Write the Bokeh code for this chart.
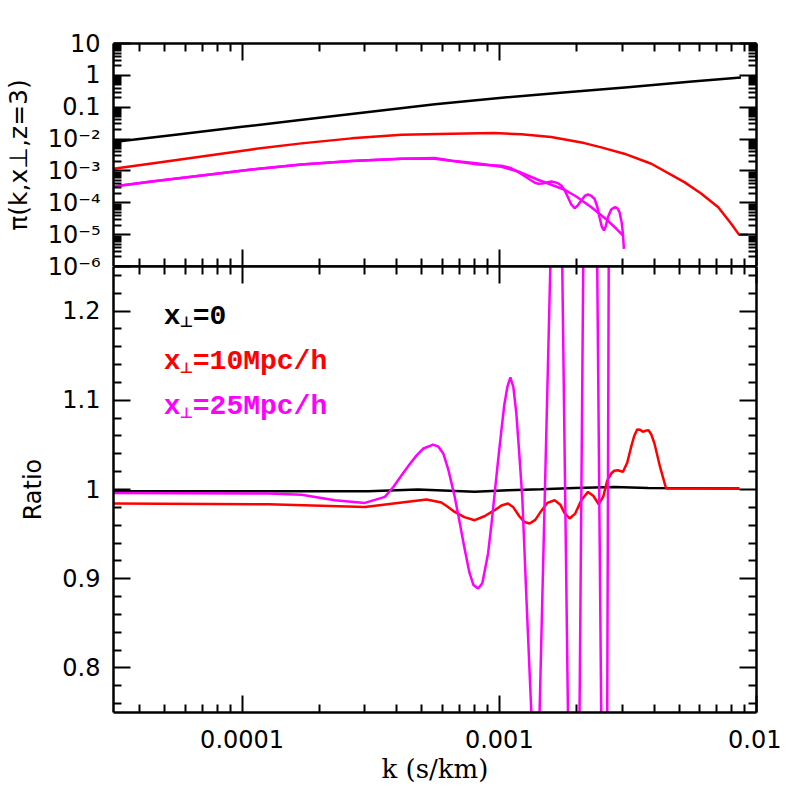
from bokeh.plotting import figure
from bokeh.models import (Range1d, FixedTicker, LogAxis, LinearAxis, Label,
                          CustomJSTickFormatter)
from bokeh.layouts import column
from bokeh.embed import file_html
from bokeh.resources import INLINE

# ---------------- data ----------------
# top panel: pi(k, x_perp, z=3)
k_top_black = [3.162e-5, 5.623e-5, 1.0e-4, 1.778e-4, 3.162e-4, 5.623e-4,
               1.0e-3, 1.778e-3, 3.162e-3, 5.623e-3, 8.7e-3]
pi_top_black = [8.05e-3, 0.01396, 0.0242, 0.0417, 0.0724, 0.123,
                0.195, 0.288, 0.427, 0.638, 0.853]

k_top_red = [3.162e-5, 4.45e-5, 6.97e-5, 1.089e-4, 1.70e-4, 2.663e-4, 4.17e-4,
             6.52e-4, 9.57e-4, 1.218e-3, 1.59e-3, 2.14e-3, 2.49e-3, 3.06e-3,
             3.90e-3, 5.24e-3, 6.09e-3, 7.10e-3, 7.96e-3, 8.55e-3, 9.27e-3]
pi_top_red = [1.17e-3, 1.72e-3, 2.86e-3, 4.74e-3, 7.33e-3, 0.01052, 0.01374,
              0.01479, 0.01545, 0.01406, 0.01156, 7.48e-3, 5.48e-3, 3.48e-3,
              1.68e-3, 4.45e-4, 1.96e-4, 7.28e-5, 2.23e-5, 1.0e-5, 1.0e-5]

k_top_mag_smooth = [3.162e-5, 4.45e-5, 6.97e-5, 1.089e-4, 1.70e-4, 2.663e-4, 4.17e-4,
                    5.60e-4, 6.52e-4, 8.143e-4, 1.018e-3, 1.183e-3, 1.413e-3,
                    1.795e-3, 1.991e-3, 2.28e-3, 2.64e-3, 2.847e-3, 3.03e-3]
pi_top_mag_smooth = [3.26e-4, 4.68e-4, 7.21e-4, 1.114e-3, 1.60e-3, 2.06e-3, 2.42e-3,
                     2.42e-3, 2.09e-3, 1.746e-3, 1.355e-3, 9.64e-4, 5.28e-4,
                     2.56e-4, 1.578e-4, 7.28e-5, 2.77e-5, 1.556e-5, 9.4e-6]

k_top_mag_osc = [3.162e-5, 4.45e-5, 6.97e-5, 1.089e-4, 1.70e-4, 2.663e-4, 4.17e-4,
                 5.60e-4, 6.52e-4, 8.27e-4, 1.018e-3, 1.104e-3, 1.183e-3, 1.252e-3,
                 1.332e-3, 1.380e-3, 1.422e-3, 1.469e-3, 1.546e-3, 1.592e-3, 1.641e-3,
                 1.695e-3, 1.742e-3, 1.797e-3, 1.849e-3, 1.905e-3, 1.963e-3, 2.018e-3,
                 2.084e-3, 2.149e-3, 2.213e-3, 2.28e-3, 2.345e-3, 2.403e-3, 2.453e-3,
                 2.502e-3, 2.553e-3, 2.593e-3, 2.644e-3, 2.723e-3, 2.807e-3, 2.874e-3,
                 2.934e-3, 2.991e-3, 3.025e-3, 3.051e-3]
pi_top_mag_osc = [3.26e-4, 4.68e-4, 7.21e-4, 1.114e-3, 1.60e-3, 2.06e-3, 2.42e-3,
                  2.53e-3, 2.09e-3, 1.59e-3, 1.45e-3, 1.24e-3, 9.3e-4, 6.97e-4,
                  5.02e-4, 4.19e-4, 3.95e-4, 4.05e-4, 4.45e-4, 4.68e-4, 4.45e-4,
                  4.05e-4, 3.50e-4, 2.44e-4, 1.50e-4, 8.85e-5, 6.76e-5, 8.22e-5,
                  1.18e-4, 1.637e-4, 1.82e-4, 1.637e-4, 1.34e-4, 7.66e-5, 3.52e-5,
                  1.80e-5, 1.35e-5, 1.80e-5, 3.52e-5, 6.15e-5, 7.28e-5, 6.86e-5,
                  5.06e-5, 2.40e-5, 1.06e-5, 3.57e-6]

# bottom panel: ratio
k_ratio_black = [3.162e-5, 3.09e-4, 4.83e-4, 8.02e-4, 1.081e-3, 1.456e-3,
                 1.963e-3, 2.807e-3, 3.79e-3, 8.579e-3]
ratio_black = [0.998, 0.998, 1.0, 0.9975, 0.9992, 1.0003, 1.0018, 1.0029, 1.0018, 1.0011]

k_ratio_red = [3.162e-5, 1.265e-4, 3.00e-4, 5.21e-4, 5.957e-4, 6.339e-4, 6.707e-4,
               7.314e-4, 8.02e-4, 8.75e-4, 9.59e-4, 1.019e-3, 1.081e-3, 1.134e-3,
               1.196e-3, 1.252e-3, 1.312e-3, 1.380e-3, 1.456e-3, 1.537e-3, 1.641e-3,
               1.727e-3, 1.789e-3, 1.876e-3, 1.973e-3, 2.083e-3, 2.212e-3, 2.319e-3,
               2.436e-3, 2.536e-3, 2.628e-3, 2.723e-3, 2.797e-3, 2.891e-3, 3.023e-3,
               3.142e-3, 3.256e-3, 3.345e-3, 3.436e-3, 3.530e-3, 3.616e-3, 3.707e-3,
               3.802e-3, 3.895e-3, 4.011e-3, 4.220e-3, 4.452e-3, 8.579e-3]
ratio_red = [0.9843, 0.9835, 0.9805, 0.9888, 0.9854, 0.980, 0.9749,
             0.969, 0.9656, 0.970, 0.9768, 0.982, 0.9843, 0.980,
             0.970, 0.9635, 0.9619, 0.966, 0.976, 0.985, 0.988,
             0.983, 0.974, 0.9675, 0.973, 0.988, 0.9973, 0.993,
             0.9835, 0.992, 1.010, 1.0179, 1.021, 1.0216, 1.0197,
             1.030, 1.0478, 1.060, 1.0673, 1.067, 1.0646, 1.066,
             1.0665, 1.062, 1.0516, 1.025, 1.0011, 1.0011]

k_ratio_mag = [3.162e-5, 1.265e-4, 1.703e-4, 2.294e-4, 3.00e-4, 3.59e-4, 3.878e-4,
               4.17e-4, 4.473e-4, 4.762e-4, 5.070e-4, 5.53e-4, 5.799e-4, 6.064e-4,
               6.339e-4, 6.707e-4, 6.994e-4, 7.314e-4, 7.650e-4, 7.931e-4, 8.27e-4,
               8.59e-4, 9.04e-4, 9.314e-4, 9.59e-4, 9.872e-4, 1.019e-3, 1.046e-3,
               1.075e-3, 1.104e-3, 1.134e-3, 1.165e-3, 1.196e-3, 1.229e-3, 1.274e-3,
               1.332e-3, 1.380e-3, 1.434e-3, 1.579e-3, 1.665e-3, 1.757e-3, 1.849e-3,
               1.939e-3, 2.051e-3, 2.120e-3, 2.258e-3, 2.403e-3, 2.490e-3, 2.559e-3,
               2.628e-3, 2.663e-3, 2.807e-3, 2.934e-3, 3.023e-3]
ratio_mag = [0.9962, 0.9955, 0.994, 0.988, 0.985, 0.9917, 1.003,
             1.016, 1.028, 1.038, 1.046, 1.0504, 1.048, 1.040,
             1.022, 0.992, 0.965, 0.935, 0.907, 0.893, 0.889,
             0.895, 0.928, 0.96, 0.995, 1.03, 1.0665, 1.095,
             1.115, 1.1256, 1.115, 1.085, 1.04, 0.99, 0.88,
             0.75, 0.62, 0.75, 1.25, 1.40, 1.25, 0.75,
             0.40, 0.75, 1.25, 2.2, 1.25, 0.75, 0.35,
             0.75, 1.25, 3.5, 3.4, 3.0]

# ticks and labels
x_major = [1e-4, 1e-3, 1e-2]
x_labels = ["0.0001", "0.001", "0.01"]
x_minor = [m * 10.0 ** e for e in (-5, -4, -3) for m in range(2, 10)]
top_y_major = [1e-6, 1e-5, 1e-4, 1e-3, 1e-2, 0.1, 1.0, 10.0]
top_y_labels = ["10⁻⁶", "10⁻⁵", "10⁻⁴", "10⁻³", "10⁻²", "0.1", "1", "10"]
top_y_minor = [m * 10.0 ** e for e in range(-6, 1) for m in range(2, 10)]
bot_y_major = [0.8, 0.9, 1.0, 1.1, 1.2]
bot_y_labels = ["0.8", "0.9", "1", "1.1", "1.2"]
bot_y_minor = [0.76, 0.78, 0.82, 0.84, 0.86, 0.88, 0.92, 0.94, 0.96, 0.98,
               1.02, 1.04, 1.06, 1.08, 1.12, 1.14, 1.16, 1.18, 1.22, 1.24]

legend_texts = ["=0", "=10Mpc/h", "=25Mpc/h"]
colors = ["#000000", "#ff0000", "#ff00ff"]

# ---------------- styling ----------------
TICK_FONT = "DejaVu Sans"
LW = 2.5
FRAME_W = 643
LEFT = 112
RIGHT = 26
OVERLAP = 14
X_LO, X_HI = 10 ** -4.5, 1e-2
BOT_Y_LO, BOT_Y_HI = 0.75, 1.25


def fmt(vals, labs):
    return CustomJSTickFormatter(args=dict(vals=vals, labs=labs), code="""
        for (let i = 0; i < vals.length; i++) {
            if (Math.abs(tick - vals[i]) <= 1e-6 * Math.abs(vals[i])) return labs[i];
        }
        return " ";
    """)


def style_axis(ax, ticker, formatter=None, labels=True, line=True):
    ax.ticker = ticker
    if formatter is not None:
        ax.formatter = formatter
    ax.major_tick_in = 17
    ax.major_tick_out = 0
    ax.minor_tick_in = 8
    ax.minor_tick_out = 0
    ax.major_tick_line_width = 2
    ax.minor_tick_line_width = 2
    ax.major_tick_line_color = "black"
    ax.minor_tick_line_color = "black"
    if line:
        ax.axis_line_width = LW
        ax.axis_line_color = "black"
    else:
        ax.axis_line_color = None
    ax.axis_label_text_color = "black"
    if labels:
        ax.major_label_text_font = TICK_FONT
        ax.major_label_text_font_size = "24px"
        ax.major_label_text_color = "black"
    else:
        ax.major_label_text_font_size = "1px"
        ax.major_label_text_alpha = 0.0
        ax.major_label_standoff = 0


x_ticker = FixedTicker(ticks=x_major, minor_ticks=x_minor)
top_y_ticker = FixedTicker(ticks=top_y_major, minor_ticks=top_y_minor)
bot_y_ticker = FixedTicker(ticks=bot_y_major, minor_ticks=bot_y_minor)
# left axis of the lower panel also carries the 10^-6 label that sits on the
# shared boundary (same screen height as the ratio 1.25)
bot_left_ticker = FixedTicker(ticks=bot_y_major + [BOT_Y_HI], minor_ticks=bot_y_minor)

xr = Range1d(X_LO, X_HI)

# ---------------- top panel ----------------
top = figure(x_axis_type="log", y_axis_type="log", x_range=xr,
             y_range=Range1d(1e-6, 10.0),
             frame_width=FRAME_W, frame_height=223,
             min_border_left=LEFT, min_border_right=RIGHT,
             min_border_top=43, min_border_bottom=0,
             output_backend="svg", toolbar_location=None)
top.outline_line_color = None
top.xgrid.visible = False
top.ygrid.visible = False

style_axis(top.yaxis[0], top_y_ticker, fmt(top_y_major[1:], top_y_labels[1:]))
top.yaxis[0].major_label_standoff = 13
top.yaxis[0].axis_label = "π(k,x⊥,z=3)"
top.yaxis[0].axis_label_text_font = TICK_FONT
top.yaxis[0].axis_label_text_font_size = "25px"
top.yaxis[0].axis_label_text_font_style = "normal"
top.yaxis[0].axis_label_standoff = 12
style_axis(top.xaxis[0], x_ticker, labels=False)

ax_r = LogAxis()
style_axis(ax_r, top_y_ticker, labels=False)
top.add_layout(ax_r, "right")
ax_t = LogAxis()
style_axis(ax_t, x_ticker, labels=False)
top.add_layout(ax_t, "above")

top.line(k_top_black, pi_top_black, line_color=colors[0], line_width=LW)
top.line(k_top_red, pi_top_red, line_color=colors[1], line_width=LW)
top.line(k_top_mag_smooth, pi_top_mag_smooth, line_color=colors[2], line_width=LW)
top.line(k_top_mag_osc, pi_top_mag_osc, line_color=colors[2], line_width=LW)

# ---------------- bottom panel ----------------
bot = figure(x_axis_type="log", x_range=xr, y_range=Range1d(BOT_Y_LO, BOT_Y_HI),
             frame_width=FRAME_W, frame_height=446,
             min_border_left=LEFT, min_border_right=RIGHT,
             min_border_top=OVERLAP, min_border_bottom=0,
             output_backend="svg", toolbar_location=None)
bot.outline_line_color = None
bot.border_fill_color = None
bot.background_fill_color = None
bot.styles = {"margin-top": f"-{OVERLAP}px"}
bot.xgrid.visible = False
bot.ygrid.visible = False

style_axis(bot.yaxis[0], bot_left_ticker,
           fmt(bot_y_major + [BOT_Y_HI], bot_y_labels + [top_y_labels[0]]))
bot.yaxis[0].major_label_standoff = 13
bot.yaxis[0].axis_label = "Ratio"
bot.yaxis[0].axis_label_text_font = TICK_FONT
bot.yaxis[0].axis_label_text_font_size = "24px"
bot.yaxis[0].axis_label_text_font_style = "normal"
bot.yaxis[0].axis_label_standoff = -2

style_axis(bot.xaxis[0], x_ticker, fmt(x_major, x_labels))
bot.xaxis[0].major_label_standoff = 17
bot.xaxis[0].axis_label = "k (s/km)"
bot.xaxis[0].axis_label_text_font = "DejaVu Serif"
bot.xaxis[0].axis_label_text_font_size = "26px"
bot.xaxis[0].axis_label_text_font_style = "normal"
bot.xaxis[0].axis_label_standoff = 3

bx_r = LinearAxis()
style_axis(bx_r, bot_y_ticker, labels=False)
bot.add_layout(bx_r, "right")
bx_t = LogAxis()
style_axis(bx_t, x_ticker, labels=False, line=True)
bot.add_layout(bx_t, "above")

bot.line(k_ratio_black, ratio_black, line_color=colors[0], line_width=LW)
bot.line(k_ratio_red, ratio_red, line_color=colors[1], line_width=LW)
bot.line(k_ratio_mag, ratio_mag, line_color=colors[2], line_width=LW)

# legend text
LEG_X = 4.96e-5
LEG_Y = [1.1943, 1.1430, 1.0926]
for txt, col, yy in zip(legend_texts, colors, LEG_Y):
    bot.add_layout(Label(x=LEG_X, y=yy, text="x", text_color=col,
                         text_font="Liberation Mono", text_font_size="28px",
                         text_font_style="bold", text_baseline="alphabetic"))
    bot.add_layout(Label(x=LEG_X, y=yy, x_offset=16, y_offset=-6, text="⊥",
                         text_color=col, text_font="DejaVu Sans",
                         text_font_size="15px", text_font_style="bold",
                         text_baseline="alphabetic"))
    bot.add_layout(Label(x=LEG_X, y=yy, x_offset=29, text=txt, text_color=col,
                         text_font="Liberation Mono", text_font_size="28px",
                         text_font_style="bold", text_baseline="alphabetic"))

layout = column(top, bot, spacing=0)
open("out.html", "w").write(file_html(layout, INLINE))
